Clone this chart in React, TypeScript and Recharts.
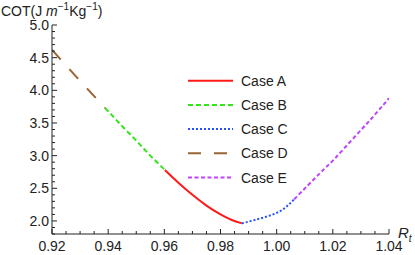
import React from 'react';
import { LineChart, Line, XAxis, YAxis } from 'recharts';

const FONT = '"Liberation Sans", Arial, sans-serif';

// x values (R_t) and COT values
const caseD = [
    { x: 0.92, y: 4.62 },
    { x: 0.929, y: 4.19 },
    { x: 0.9389, y: 3.73 },
];
const caseB = [
    { x: 0.9389, y: 3.73 },
    { x: 0.945, y: 3.45 },
    { x: 0.95, y: 3.23 },
    { x: 0.955, y: 3.0 },
    { x: 0.9602, y: 2.78 },
];
const caseA = [
    { x: 0.9602, y: 2.78 },
    { x: 0.965, y: 2.585 },
    { x: 0.97, y: 2.4 },
    { x: 0.975, y: 2.235 },
    { x: 0.98, y: 2.1 },
    { x: 0.984, y: 2.015 },
    { x: 0.9876, y: 1.963 },
];
const caseC = [
    { x: 0.9876, y: 1.963 },
    { x: 0.9923, y: 2.015 },
    { x: 0.997, y: 2.075 },
    { x: 1.0018, y: 2.165 },
    { x: 1.0062, y: 2.33 },
];
const caseE = [
    { x: 1.0062, y: 2.33 },
    { x: 1.0154, y: 2.73 },
    { x: 1.0208, y: 2.96 },
    { x: 1.0273, y: 3.265 },
    { x: 1.034, y: 3.58 },
    { x: 1.04, y: 3.88 },
];

const xMajor = [0.92, 0.94, 0.96, 0.98, 1.0, 1.02, 1.04];
const yMajor = [2.0, 2.5, 3.0, 3.5, 4.0, 4.5, 5.0];
const xAllTicks = Array.from({ length: 25 }, (_, i) => +(0.92 + i * 0.005).toFixed(3));
const yAllTicks = Array.from({ length: 33 }, (_, i) => +(1.8 + i * 0.1).toFixed(1));

const series = [
    { name: 'Case A', data: caseA, color: '#ff1a1a', dash: undefined, type: 'natural' },
    { name: 'Case B', data: caseB, color: '#33e61a', dash: '5 3', type: 'linear' },
    { name: 'Case C', data: caseC, color: '#2450ff', dash: '2 2', type: 'natural' },
    { name: 'Case D', data: caseD, color: '#996633', dash: '13 13', type: 'linear' },
    { name: 'Case E', data: caseE, color: '#bb44ff', dash: '4 2.5', type: 'natural' },
];

const isMajor = (v: number, list: number[]) => list.some((m) => Math.abs(m - v) < 1e-6);

function XTick(props: any) {
    const { x, y, payload } = props;
    const major = isMajor(payload.value, xMajor);
    return (
        <g>
            <line x1={x} x2={x} y1={y} y2={y - (major ? 5 : 3)} stroke="#222" strokeWidth={1} />
            {major && (
                <text x={x} y={y + 17} textAnchor="middle" fontSize={14} fontFamily={FONT} fill="#222">
                    {payload.value.toFixed(2)}
                </text>
            )}
        </g>
    );
}

function YTick(props: any) {
    const { x, y, payload } = props;
    const major = isMajor(payload.value, yMajor);
    return (
        <g>
            <line x1={x} x2={x + (major ? 5 : 3)} y1={y} y2={y} stroke="#222" strokeWidth={1} />
            {major && (
                <text x={x - 3} y={y + 5} textAnchor="end" fontSize={14} fontFamily={FONT} fill="#222">
                    {payload.value.toFixed(1)}
                </text>
            )}
        </g>
    );
}

export default function App() {
    return (
        <div style={{ position: 'absolute', left: 0, top: 0, width: 415, height: 255, background: '#fff', fontFamily: FONT }}>
            <LineChart width={415} height={255} margin={{ top: 25, right: 26, bottom: 0, left: 0 }}>
                <XAxis
                    dataKey="x"
                    type="number"
                    domain={[0.92, 1.04]}
                    ticks={xAllTicks}
                    interval={0}
                    tick={XTick}
                    tickLine={false}
                    tickSize={0}
                    tickMargin={0}
                    height={21}
                    allowDataOverflow
                    axisLine={{ stroke: '#222' }}
                />
                <YAxis
                    type="number"
                    domain={[1.8, 5.0]}
                    ticks={yAllTicks}
                    interval={0}
                    tick={YTick}
                    tickLine={false}
                    tickSize={0}
                    tickMargin={0}
                    width={52}
                    allowDataOverflow
                    axisLine={{ stroke: '#222' }}
                />
                {series.map((s) => (
                    <Line
                        key={s.name}
                        data={s.data}
                        dataKey="y"
                        name={s.name}
                        type={s.type as any}
                        stroke={s.color}
                        strokeWidth={2}
                        strokeDasharray={s.dash}
                        dot={false}
                        activeDot={false}
                        isAnimationActive={false}
                    />
                ))}
            </LineChart>

            <div style={{ position: 'absolute', left: 1, top: 1, fontSize: 14, color: '#222', whiteSpace: 'nowrap' }}>
                COT(J <i>m</i>
                <sup style={{ fontSize: 10 }}>−1</sup>Kg<sup style={{ fontSize: 10 }}>−1</sup>)
            </div>

            <div style={{ position: 'absolute', left: 398, top: 224, fontSize: 15, color: '#222' }}>
                <i>R</i>
                <sub style={{ fontSize: 10 }}>
                    <i>t</i>
                </sub>
            </div>

            <svg width={415} height={255} style={{ position: 'absolute', left: 0, top: 0, pointerEvents: 'none' }}>
                {series.map((s, i) => {
                    const ry = 80.7 + i * 24.2;
                    return (
                        <g key={s.name}>
                            <line x1={188} x2={233} y1={ry} y2={ry} stroke={s.color} strokeWidth={2} strokeDasharray={s.dash} />
                            <text x={241} y={ry + 5} fontSize={14} fontFamily={FONT} fill="#222">
                                {s.name}
                            </text>
                        </g>
                    );
                })}
            </svg>
        </div>
    );
}
